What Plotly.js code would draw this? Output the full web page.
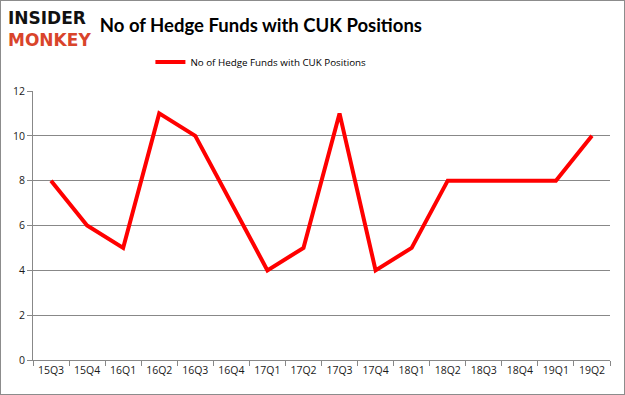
<!DOCTYPE html>
<html><head><meta charset="utf-8">
<script src="https://cdn.plot.ly/plotly-3.0.1.min.js"></script>
<style>
html,body{margin:0;padding:0;background:#fff;}
#wrap{width:625px;height:395px;box-sizing:border-box;border:1px solid #8c8c8c;overflow:hidden;}
#chart{width:623px;height:393px;}
</style></head>
<body><div id="wrap"><div id="chart"></div></div>
<script>
var quarters = ["15Q3","15Q4","16Q1","16Q2","16Q3","16Q4","17Q1","17Q2","17Q3","17Q4","18Q1","18Q2","18Q3","18Q4","19Q1","19Q2"];
var hedgeFunds = [8,6,5,11,10,7,4,5,11,4,5,8,8,8,8,10];
var seriesName = "No of Hedge Funds with CUK Positions";
var yTicks = [0,2,4,6,8,10,12];

var trace = {
  x: quarters, y: hedgeFunds, type: "scatter", mode: "lines",
  name: seriesName,
  line: {color: "#ff0000", width: 4}
};
var layout = {
  width: 623, height: 393,
  margin: {l: 32, r: 14, t: 90, b: 34},
  paper_bgcolor: "#fff", plot_bgcolor: "#fff",
  font: {family: "Open Sans, DejaVu Sans, sans-serif", size: 11, color: "#000"},
  title: {text: "<b>" + seriesName + "</b>", x: 0.395, xanchor: "center", xref: "paper",
          y: 0.937, yanchor: "middle",
          font: {family: "Lato, Open Sans, sans-serif", size: 18.5, color: "#000"}},
  showlegend: true,
  legend: {orientation: "h", x: 0.395, xanchor: "center", y: 1.108, yanchor: "middle",
           font: {size: 9.8, family: "Open Sans, sans-serif"}, bgcolor: "rgba(0,0,0,0)",
           itemwidth: 30},
  xaxis: {type: "category", tickson: "boundaries", ticks: "outside", ticklen: 5, tickcolor: "#888",
          showline: true, linecolor: "#888", showgrid: false, tickangle: 0,
          tickfont: {size: 10.5, color: "#1a1a1a"}, range: [-0.5, 15.5]},
  yaxis: {range: [0, 12], tickvals: yTicks, ticks: "outside", ticklen: 5, tickcolor: "#888",
          showline: true, linecolor: "#888", gridcolor: "#888", gridwidth: 1,
          zeroline: false, tickfont: {size: 10.5, color: "#1a1a1a"}},
  annotations: [
    {text: "<b>INSIDER</b>", xref: "paper", yref: "paper", x: -0.047, y: 1.272, xanchor: "left", yanchor: "middle",
     showarrow: false, font: {family: "DejaVu Sans, sans-serif", size: 17, color: "#111"}},
    {text: "<b>MONKEY</b>", xref: "paper", yref: "paper", x: -0.047, y: 1.19, xanchor: "left", yanchor: "middle",
     showarrow: false, font: {family: "DejaVu Sans, sans-serif", size: 17, color: "#d9442b"}}
  ]
};
Plotly.newPlot("chart", [trace], layout, {displayModeBar: false, staticPlot: true});
</script></body></html>
